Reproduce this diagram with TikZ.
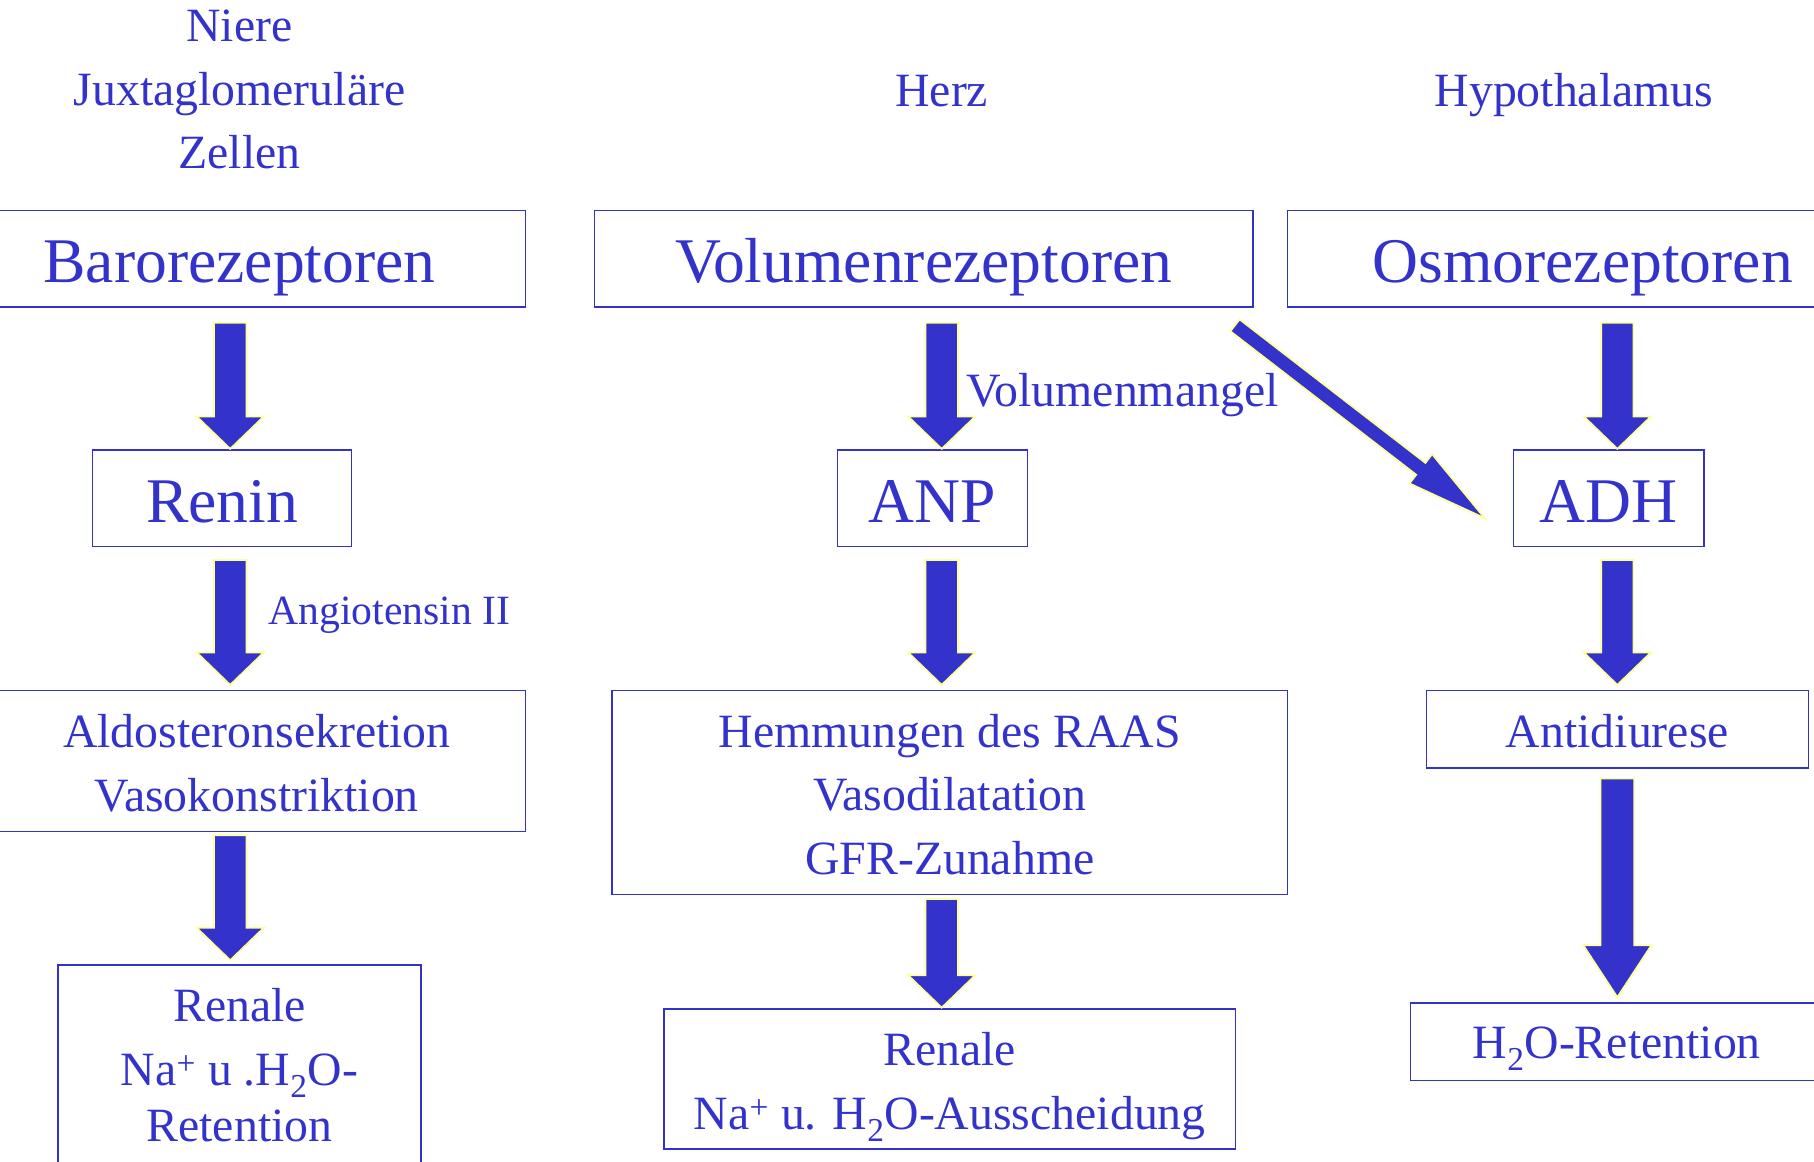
\documentclass[tikz,border=0pt]{standalone}
\usepackage{fontspec}
\setmainfont{Liberation Serif}
\usetikzlibrary{calc}
\definecolor{dblue}{HTML}{3333CC}
\definecolor{ayellow}{HTML}{FFFF99}
\newcommand{\fbig}{\fontsize{55}{66}\selectfont}
\newcommand{\fmid}{\fontsize{41.3}{55}\selectfont}
\newcommand{\fsmall}{\fontsize{36}{44}\selectfont}
% block arrow: #1 start, #2 end, #3 shaft half width, #4 head half width, #5 head length
\newcommand{\barrow}[5]{%
  \coordinate (bah) at ($(#2)!#5!(#1)$);
  \filldraw[blockarrow] ($(#1)!#3!90:(#2)$) -- ($(bah)!#3!90:(#2)$) -- ($(bah)!#4!90:(#2)$) -- (#2)
    -- ($(bah)!#4!-90:(#2)$) -- ($(bah)!#3!-90:(#2)$) -- ($(#1)!#3!-90:(#2)$) -- cycle;
}
\begin{document}
\begin{tikzpicture}[x=1pt,y=-1pt,
  box/.style={draw=dblue, line width=1.2pt, text=dblue, inner sep=0pt, rectangle},
  lbl/.style={text=dblue, inner sep=0pt, anchor=base},
  blockarrow/.style={fill=dblue, draw=ayellow, line width=1.5pt, line join=miter}]
\useasboundingbox (0,0) rectangle (1568,1004);
\clip (0,0) rectangle (1568,1004);

% top labels
\node[lbl, font=\fmid] (niere) at (207,36) {\begin{tabular}[t]{@{}c@{}}Niere\\Juxtaglomeruläre\\Zellen\end{tabular}};
\node[lbl, font=\fmid] (herz) at (814,92) {Herz};
\node[lbl, font=\fmid] (hypo) at (1360.5,92) {Hypothalamus};

% row 1
\node[box, minimum width=494pt, minimum height=83.5pt, text height=41.7pt, text depth=0pt, font=\fbig] (baro) at (207,223.75) {Barorezeptoren};
\node[box, minimum width=569pt, minimum height=83.5pt, text height=41.7pt, text depth=0pt, font=\fbig] (vol) at (798.5,223.75) {Volumenrezeptoren};
\node[box, minimum width=510pt, minimum height=83.5pt, text height=41.7pt, text depth=0pt, font=\fbig] (osmo) at (1368,223.75) {Osmorezeptoren};

% row 2
\node[box, minimum width=224pt, minimum height=83.5pt, text height=42.5pt, text depth=0pt, font=\fbig] (renin) at (192,430.75) {Renin};
\node[box, minimum width=164pt, minimum height=83.5pt, text height=42.5pt, text depth=0pt, font=\fbig] (anp) at (806,430.75) {ANP};
\node[box, minimum width=165pt, minimum height=83.5pt, text height=42.5pt, text depth=0pt, font=\fbig] (adh) at (1390.5,430.75) {ADH};

% row 3
\node[box, minimum width=464pt, minimum height=121.5pt, text height=0pt, text depth=22.5pt, font=\fmid] (aldo) at (222,657.75)
  {\begin{tabular}[t]{@{}c@{}}Aldosteronsekretion\\Vasokonstriktion\end{tabular}};
\node[box, minimum width=584pt, minimum height=176pt, text height=0pt, text depth=78pt, font=\fmid] (hemm) at (821,685)
  {\begin{tabular}[t]{@{}c@{}}Hemmungen des RAAS\\Vasodilatation\\GFR-Zunahme\end{tabular}};
\node[box, minimum width=330pt, minimum height=67pt, text height=31pt, text depth=0pt, font=\fmid] (anti) at (1398,630.5) {Antidiurese};

% row 4
\node[box, minimum width=314pt, minimum height=196pt, text height=0pt, text depth=98pt, font=\fmid] (renl) at (207,932)
  {\begin{tabular}[t]{@{}c@{}}Renale\\Na\textsuperscript{+} u .H\textsubscript{2}O-\\[-6pt]Retention\end{tabular}};
\node[box, minimum width=494pt, minimum height=121pt, text height=0pt, text depth=23pt, font=\fmid] (renm) at (821,932.5)
  {\begin{tabular}[t]{@{}c@{}}Renale\\Na\textsuperscript{+} u. H\textsubscript{2}O-Ausscheidung\end{tabular}};
\node[box, minimum width=357pt, minimum height=67pt, text height=29pt, text depth=0pt, font=\fmid] (h2o) at (1397.5,900.5) {H\textsubscript{2}O-Retention};

% arrow labels
\node[lbl, anchor=base west, font=\fmid] (vm) at (835,351) {Volumenmangel};
\node[lbl, anchor=base west, font=\fsmall] (ang) at (232,539.4) {Angiotensin II};

% arrow end points
\coordinate (a1s) at (199,279);  \coordinate (a1e) at (199,388);
\coordinate (a2s) at (199,484);  \coordinate (a2e) at (199,592);
\coordinate (a3s) at (199,722);  \coordinate (a3e) at (199,830);
\coordinate (a4s) at (814,279);  \coordinate (a4e) at (814,388);
\coordinate (a5s) at (814,484);  \coordinate (a5e) at (814,592);
\coordinate (a6s) at (814,777);  \coordinate (a6e) at (814,871);
\coordinate (a7s) at (1398,279); \coordinate (a7e) at (1398,388);
\coordinate (a8s) at (1398,484); \coordinate (a8e) at (1398,592);
\coordinate (a9s) at (1398,673); \coordinate (a9e) at (1398,862);
\coordinate (dgs) at (1067.5,281.2); \coordinate (dge) at (1283.5,448);

\barrow{a1s}{a1e}{14pt}{29pt}{28pt}
\barrow{a2s}{a2e}{14pt}{29pt}{28pt}
\barrow{a3s}{a3e}{14pt}{29pt}{28pt}
\barrow{a4s}{a4e}{14pt}{29pt}{28pt}
\barrow{a5s}{a5e}{14pt}{29pt}{28pt}
\barrow{a6s}{a6e}{14pt}{29pt}{28pt}
\barrow{a7s}{a7e}{14pt}{29pt}{28pt}
\barrow{a8s}{a8e}{14pt}{29pt}{28pt}
\barrow{a9s}{a9e}{14.5pt}{29.5pt}{45pt}
\barrow{dgs}{dge}{6.5pt}{16pt}{70pt}
\end{tikzpicture}
\end{document}
